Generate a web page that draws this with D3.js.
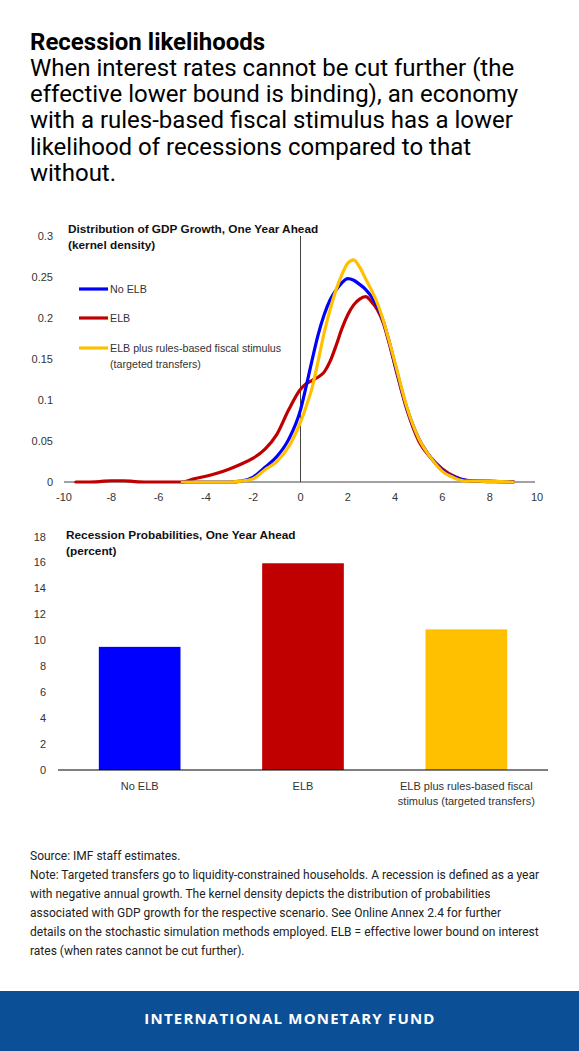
<!DOCTYPE html>
<html>
<head>
<meta charset="utf-8">
<script src="https://cdn.jsdelivr.net/npm/d3@7"></script>
<style>
  body { margin: 0; background: #fff; }
  svg { display: block; }
</style>
</head>
<body>
<div id="container"></div>
<script>
// growth grid (percent) and kernel densities
var growth = [-9.5, -9, -8.5, -8, -7.5, -7, -6.5, -6, -5.5, -5, -4.5, -4, -3.5, -3, -2.5, -2, -1.5, -1, -0.5,
              0, 0.25, 0.5, 0.75, 1, 1.25, 1.5, 1.75, 2, 2.25, 2.5, 2.75, 3, 3.25, 3.5, 3.75, 4,
              4.5, 5, 5.5, 6, 6.5, 7, 7.5, 8, 8.5, 9];

var densNoElb = [null, null, null, null, null, null, null, null, null, 0, 0, 0, 0, 0, 0.001, 0.006, 0.018, 0.031, 0.052,
                 0.088, 0.118, 0.150, 0.180, 0.204, 0.222, 0.234, 0.243, 0.248, 0.246, 0.241, 0.235, 0.226, 0.214, 0.196, 0.171, 0.143,
                 0.090, 0.053, 0.030, 0.014, 0.006, 0.002, 0.001, 0.0005, 0.0005, 0];

var densElb = [0, 0, 0.0005, 0.0015, 0.0015, 0.0005, 0, 0, 0, 0, 0.004, 0.007, 0.011, 0.016, 0.022, 0.029, 0.040, 0.058, 0.088,
               0.113, 0.120, 0.124, 0.128, 0.134, 0.147, 0.166, 0.187, 0.204, 0.216, 0.223, 0.226, 0.220, 0.210, 0.194, 0.169, 0.141,
               0.088, 0.050, 0.030, 0.016, 0.007, 0.002, 0.001, 0.001, 0.0005, 0.0005];

var densFiscal = [null, null, null, null, null, null, null, null, null, 0, 0, 0, 0, 0, 0.001, 0.004, 0.015, 0.025, 0.043,
                  0.073, 0.093, 0.116, 0.148, 0.182, 0.210, 0.234, 0.253, 0.267, 0.271, 0.262, 0.248, 0.234, 0.218, 0.197, 0.172, 0.145,
                  0.091, 0.053, 0.030, 0.013, 0.005, 0.001, 0.001, 0.0005, 0.0005, 0];

var seriesNames = ["No ELB", "ELB", "ELB plus rules-based fiscal stimulus"];
var color = ["#0000ff", "#c00000", "#ffc000"];

var xTicks = [-10, -8, -6, -4, -2, 0, 2, 4, 6, 8, 10];
var yTicks = [0, 0.05, 0.1, 0.15, 0.2, 0.25, 0.3];

// bars
var barCats = ["No ELB", "ELB", "ELB plus rules-based fiscal stimulus (targeted transfers)"];
var barLabels = [["No ELB"], ["ELB"], ["ELB plus rules-based fiscal", "stimulus (targeted transfers)"]];
var barValues = [9.5, 15.95, 10.85];
var barTicks = [0, 2, 4, 6, 8, 10, 12, 14, 16, 18];

var width = 579, height = 1051;
var chartFont = "'Liberation Sans', Arial, sans-serif";
var textFont = "Roboto, 'Noto Sans', sans-serif";

var svg = d3.select("#container").append("svg")
    .attr("width", width)
    .attr("height", height)

// header
svg.append("text")
    .attr("x", 30).attr("y", 50)
    .style("font-family", textFont).style("font-weight", "bold").style("font-size", "24px")
    .style("fill", "#000")
    .text("Recession likelihoods")

var subLines = ["When interest rates cannot be cut further (the",
                "effective lower bound is binding), an economy",
                "with a rules-based fiscal stimulus has a lower",
                "likelihood of recessions compared to that",
                "without."];
svg.append("g").selectAll("text")
    .data(subLines)
    .enter().append("text")
    .attr("x", 30)
    .attr("y", function(d, i) { return 76 + i * 26.2 })
    .style("font-family", textFont).style("font-size", "24px").style("fill", "#000")
    .text(function(d) { return d })

// ---------- kernel density chart ----------
var x = d3.scaleLinear().domain([-10, 10]).range([64, 537]);
var y = d3.scaleLinear().domain([0, 0.3]).range([482, 236]);

var dens = svg.append("g").attr("class", "density");

dens.append("text")
    .attr("x", 68).attr("y", 233)
    .style("font-family", chartFont).style("font-weight", "bold").style("font-size", "11.8px").style("fill", "#111")
    .text("Distribution of GDP Growth, One Year Ahead")
dens.append("text")
    .attr("x", 68).attr("y", 249)
    .style("font-family", chartFont).style("font-weight", "bold").style("font-size", "11.8px").style("fill", "#111")
    .text("(kernel density)")

dens.selectAll(".ylab")
    .data(yTicks)
    .enter().append("text")
    .attr("class", "ylab")
    .attr("x", 53)
    .attr("y", function(d) { return y(d) })
    .attr("dy", "0.35em")
    .attr("text-anchor", "end")
    .style("font-family", chartFont).style("font-size", "11px").style("fill", "#333")
    .text(function(d) { return d === 0 ? "0" : String(+d.toFixed(2)) })

dens.selectAll(".xlab")
    .data(xTicks)
    .enter().append("text")
    .attr("class", "xlab")
    .attr("x", function(d) { return x(d) })
    .attr("y", 501)
    .attr("text-anchor", "middle")
    .style("font-family", chartFont).style("font-size", "11px").style("fill", "#333")
    .text(function(d) { return d })

// axis at zero and vertical line at zero growth
dens.append("line")
    .attr("x1", x(-10)).attr("x2", x(10) - 2)
    .attr("y1", y(0)).attr("y2", y(0))
    .style("stroke", "#444").style("stroke-width", 1)
dens.append("line")
    .attr("x1", x(0)).attr("x2", x(0))
    .attr("y1", y(0.3)).attr("y2", y(0))
    .style("stroke", "#444").style("stroke-width", 1)

var line = d3.line()
    .defined(function(d) { return d[1] !== null })
    .x(function(d) { return x(d[0]) })
    .y(function(d) { return y(d[1]) })
    .curve(d3.curveMonotoneX)

var curves = [densElb, densNoElb, densFiscal];
var curveColors = [color[1], color[0], color[2]];
dens.selectAll(".curve")
    .data(curves)
    .enter().append("path")
    .attr("class", "curve")
    .attr("d", function(d) { return line(growth.map(function(g, i) { return [g, d[i]] })) })
    .style("fill", "none")
    .style("stroke", function(_, i) { return curveColors[i] })
    .style("stroke-width", 3.2)
    .style("stroke-linejoin", "round")
    .style("stroke-linecap", "round")

// legend
var legendY = [289, 318, 348];
var legend = dens.selectAll(".legend")
    .data(seriesNames)
    .enter().append("g")
    .attr("class", "legend")
    .attr("transform", function(_, i) { return "translate(0," + legendY[i] + ")" })
legend.append("line")
    .attr("x1", 79).attr("x2", 108)
    .style("stroke", function(_, i) { return color[i] })
    .style("stroke-width", 3.2)
legend.append("text")
    .attr("x", 110)
    .attr("dy", "0.35em")
    .style("font-family", chartFont).style("font-size", "10.7px").style("fill", "#333")
    .text(function(d) { return d })
dens.append("text")
    .attr("x", 110).attr("y", 364).attr("dy", "0.35em")
    .style("font-family", chartFont).style("font-size", "10.7px").style("fill", "#333")
    .text("(targeted transfers)")

// ---------- recession probability bars ----------
var bx = d3.scaleBand()
    .domain(barCats)
    .range([58, 548])
    .paddingInner(0.5)
    .paddingOuter(0.25)
var by = d3.scaleLinear().domain([0, 18]).range([770, 536.7]);

var bars = svg.append("g").attr("class", "bars");

bars.append("text")
    .attr("x", 66).attr("y", 539)
    .style("font-family", chartFont).style("font-weight", "bold").style("font-size", "11.8px").style("fill", "#111")
    .text("Recession Probabilities, One Year Ahead")
bars.append("text")
    .attr("x", 66).attr("y", 555)
    .style("font-family", chartFont).style("font-weight", "bold").style("font-size", "11.8px").style("fill", "#111")
    .text("(percent)")

bars.selectAll(".ylab")
    .data(barTicks)
    .enter().append("text")
    .attr("class", "ylab")
    .attr("x", 46)
    .attr("y", function(d) { return by(d) })
    .attr("dy", "0.35em")
    .attr("text-anchor", "end")
    .style("font-family", chartFont).style("font-size", "11px").style("fill", "#333")
    .text(function(d) { return d })

bars.selectAll(".bar")
    .data(barValues)
    .enter().append("rect")
    .attr("class", "bar")
    .attr("x", function(_, i) { return bx(barCats[i]) })
    .attr("y", function(d) { return by(d) })
    .attr("width", bx.bandwidth())
    .attr("height", function(d) { return by(0) - by(d) })
    .style("fill", function(_, i) { return color[i] })

bars.append("line")
    .attr("x1", 58).attr("x2", 548)
    .attr("y1", by(0)).attr("y2", by(0))
    .style("stroke", "#000").style("stroke-width", 1.2)

var catLab = bars.selectAll(".cat")
    .data(barLabels)
    .enter().append("text")
    .attr("class", "cat")
    .attr("x", function(_, i) { return bx(barCats[i]) + bx.bandwidth() / 2 })
    .attr("y", 790)
    .attr("text-anchor", "middle")
    .style("font-family", chartFont).style("font-size", "11px").style("fill", "#333")
catLab.selectAll("tspan")
    .data(function(d) { return d })
    .enter().append("tspan")
    .attr("x", function() { return d3.select(this.parentNode).attr("x") })
    .attr("dy", function(_, i) { return i === 0 ? 0 : 15 })
    .text(function(d) { return d })

// ---------- notes ----------
var notes = ["Source: IMF staff estimates.",
             "Note: Targeted transfers go to liquidity-constrained households. A recession is defined as a year",
             "with negative annual growth. The kernel density depicts the distribution of probabilities",
             "associated with GDP growth for the respective scenario. See Online Annex 2.4 for further",
             "details on the stochastic simulation methods employed. ELB = effective lower bound on interest",
             "rates (when rates cannot be cut further)."];
svg.append("g").selectAll("text")
    .data(notes)
    .enter().append("text")
    .attr("x", 30)
    .attr("y", function(d, i) { return 860 + i * 18.9 })
    .style("font-family", textFont).style("font-size", "12px").style("fill", "#222")
    .text(function(d) { return d })

// footer band
svg.append("rect")
    .attr("x", 0).attr("y", 991)
    .attr("width", width).attr("height", height - 991)
    .style("fill", "#0b4f96")
svg.append("text")
    .attr("x", 290).attr("y", 1024)
    .attr("text-anchor", "middle")
    .style("font-family", "'Open Sans', Lato, sans-serif").style("font-weight", "bold").style("font-size", "15px")
    .style("letter-spacing", "1.2px")
    .style("fill", "#fff")
    .text("INTERNATIONAL MONETARY FUND")
</script>
</body>
</html>
